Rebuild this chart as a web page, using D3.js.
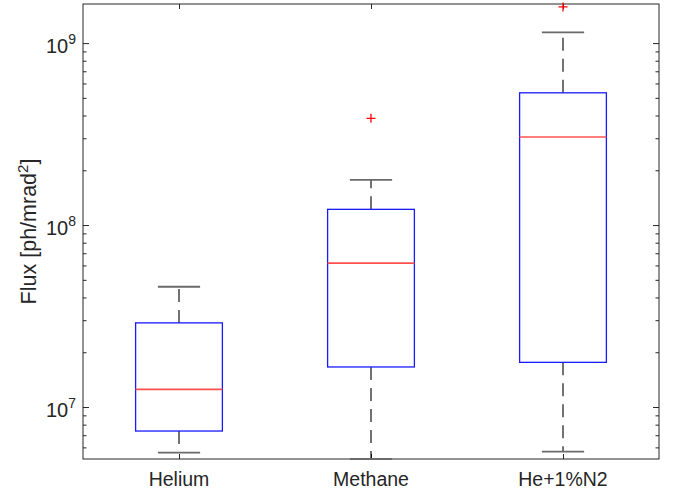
<!DOCTYPE html>
<html>
<head>
<meta charset="utf-8">
<script src="https://cdn.jsdelivr.net/npm/d3@7/dist/d3.min.js"></script>
<style>
  html, body { margin: 0; padding: 0; background: #fff; }
  svg { display: block; }
  text { font-family: "Liberation Sans", Arial, Helvetica, sans-serif; fill: #262626; }
</style>
</head>
<body>
<svg id="chart" width="676" height="490"></svg>
<script>
// ---- data ----
const categories = ["Helium", "Methane", "He+1%N2"];
const whiskerLow  = [5.61e6, 5.18e6, 5.68e6];
const q1          = [7.38e6, 1.66e7, 1.76e7];
const medians     = [1.25e7, 6.18e7, 3.05e8];
const q3          = [2.90e7, 1.22e8, 5.33e8];
const whiskerHigh = [4.58e7, 1.77e8, 1.145e9];
const outliers    = [[], [3.86e8], [1.58e9]];
const yMajorTicks = [1e7, 1e8, 1e9];
const yTickExponents = ["7", "8", "9"];
const yDomain = [5.18e6, 1.64e9];
const yLabel = "Flux [ph/mrad";

// ---- layout ----
const svg = d3.select("#chart");
const L = 83, R = 659, T = 4, B = 459;
const axisColor = "#262626";

const x = d3.scaleLinear().domain([0.5, 3.5]).range([L, R]);
const y = d3.scaleLog().domain(yDomain).range([B, T]);

// minor ticks
const minorTicks = [];
for (let e = 6; e <= 9; e++) {
  for (let m = 2; m <= 9; m++) {
    const v = m * Math.pow(10, e);
    if (v >= yDomain[0] && v <= yDomain[1]) minorTicks.push(v);
  }
}

function styleAxis(g) {
  g.select(".domain").remove();
  g.selectAll(".tick line").attr("stroke", axisColor).attr("stroke-width", 1);
  g.selectAll(".tick text").remove();
}

// left axis ticks (inward)
svg.append("g").attr("transform", `translate(${L},0)`)
  .call(d3.axisLeft(y).tickValues(yMajorTicks).tickSize(-6).tickSizeOuter(0).tickFormat(""))
  .call(styleAxis);
svg.append("g").attr("transform", `translate(${L},0)`)
  .call(d3.axisLeft(y).tickValues(minorTicks).tickSize(-3.5).tickSizeOuter(0).tickFormat(""))
  .call(styleAxis);
// right axis ticks (inward)
svg.append("g").attr("transform", `translate(${R},0)`)
  .call(d3.axisRight(y).tickValues(yMajorTicks).tickSize(-6).tickSizeOuter(0).tickFormat(""))
  .call(styleAxis);
svg.append("g").attr("transform", `translate(${R},0)`)
  .call(d3.axisRight(y).tickValues(minorTicks).tickSize(-3.5).tickSizeOuter(0).tickFormat(""))
  .call(styleAxis);
// x ticks bottom and top (inward)
const xIdx = categories.map((c, i) => i + 1);
svg.append("g").attr("transform", `translate(0,${B})`)
  .call(d3.axisBottom(x).tickValues(xIdx).tickSize(-5).tickSizeOuter(0).tickFormat(""))
  .call(styleAxis);
svg.append("g").attr("transform", `translate(0,${T})`)
  .call(d3.axisTop(x).tickValues(xIdx).tickSize(-5).tickSizeOuter(0).tickFormat(""))
  .call(styleAxis);

// frame
svg.append("rect")
  .attr("x", L).attr("y", T).attr("width", R - L).attr("height", B - T)
  .attr("fill", "none").attr("stroke", axisColor).attr("stroke-width", 1);

// y tick labels: 10^n
yMajorTicks.forEach((v, i) => {
  const t = svg.append("text")
    .attr("x", 76).attr("y", y(v) + 10)
    .attr("text-anchor", "end")
    .style("font-size", "20px");
  t.append("tspan").text("10");
  t.append("tspan").attr("dy", -9).style("font-size", "14px").text(yTickExponents[i]);
});

// x tick labels
categories.forEach((c, i) => {
  svg.append("text")
    .attr("x", x(i + 1)).attr("y", 486)
    .attr("text-anchor", "middle")
    .style("font-size", "19.5px")
    .text(c);
});

// y label
const yl = svg.append("text")
  .attr("transform", `translate(36,${(T + B) / 2}) rotate(-90)`)
  .attr("text-anchor", "middle")
  .style("font-size", "21.5px");
yl.append("tspan").text(yLabel);
yl.append("tspan").attr("dy", -8).style("font-size", "15px").text("2");
yl.append("tspan").attr("dy", 8).text("]");

// ---- boxes ----
const halfBox = 0.226, halfCap = 0.11;
const g = svg.append("g");
categories.forEach((c, i) => {
  const cx = x(i + 1);
  // whiskers (dashed, drawn from box outward)
  g.append("line")
    .attr("x1", cx).attr("x2", cx)
    .attr("y1", y(q3[i])).attr("y2", y(whiskerHigh[i]))
    .attr("stroke", "#000").attr("stroke-width", 1.1).attr("stroke-dasharray", "13,8");
  g.append("line")
    .attr("x1", cx).attr("x2", cx)
    .attr("y1", y(q1[i])).attr("y2", y(whiskerLow[i]))
    .attr("stroke", "#000").attr("stroke-width", 1.1).attr("stroke-dasharray", "13,8");
  // caps
  [whiskerHigh[i], whiskerLow[i]].forEach(v => {
    g.append("line")
      .attr("x1", x(i + 1 - halfCap)).attr("x2", x(i + 1 + halfCap))
      .attr("y1", y(v)).attr("y2", y(v))
      .attr("stroke", "#6a6a6a").attr("stroke-width", 1.8);
  });
  // box
  g.append("rect")
    .attr("x", x(i + 1 - halfBox)).attr("width", x(i + 1 + halfBox) - x(i + 1 - halfBox))
    .attr("y", y(q3[i])).attr("height", y(q1[i]) - y(q3[i]))
    .attr("fill", "none").attr("stroke", "#1a1aff").attr("stroke-width", 1.3);
  // median
  g.append("line")
    .attr("x1", x(i + 1 - halfBox)).attr("x2", x(i + 1 + halfBox))
    .attr("y1", y(medians[i])).attr("y2", y(medians[i]))
    .attr("stroke", "#ff5050").attr("stroke-width", 1.6);
  // outliers
  outliers[i].forEach(v => {
    const oy = y(v), s = 4.5;
    g.append("path")
      .attr("d", `M${cx - s},${oy}H${cx + s}M${cx},${oy - s}V${oy + s}`)
      .attr("stroke", "#ff0000").attr("stroke-width", 1.3).attr("fill", "none");
  });
});
</script>
</body>
</html>
